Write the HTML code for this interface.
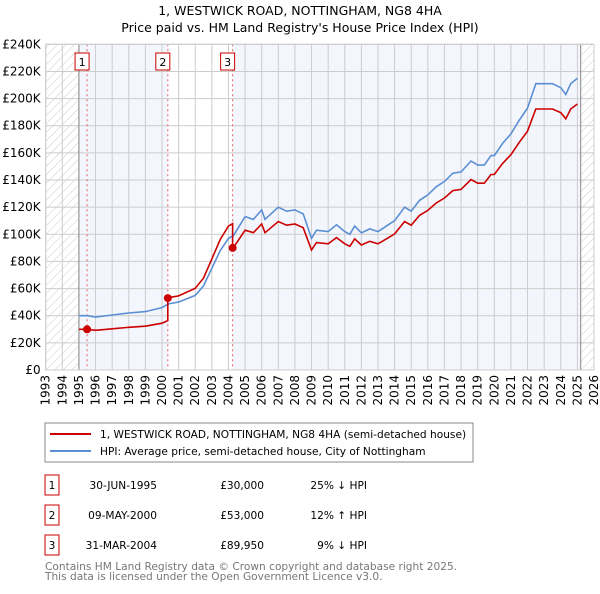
<!DOCTYPE html>
<html><head><meta charset="utf-8"><style>
body{margin:0;width:600px;height:590px;background:#fff;font-family:"DejaVu Sans","Liberation Sans",sans-serif;overflow:hidden}
svg text{font-family:"DejaVu Sans","Liberation Sans",sans-serif}
</style></head><body>
<svg id="c" width="600" height="590" xmlns="http://www.w3.org/2000/svg">
<defs><pattern id="hatch" width="6" height="6" patternUnits="userSpaceOnUse" patternTransform="rotate(45)"><line x1="0" y1="0" x2="0" y2="6" stroke="#ccc" stroke-width="1"/></pattern></defs>
<text x="300" y="15" text-anchor="middle" font-size="12.5">1, WESTWICK ROAD, NOTTINGHAM, NG8 4HA</text>
<text x="300" y="32" text-anchor="middle" font-size="12.5">Price paid vs. HM Land Registry's House Price Index (HPI)</text>
<g id="plot"></g>
<rect x="45" y="423" width="428" height="39" fill="#fff" stroke="#888"/>
<line x1="50" y1="434" x2="91" y2="434" stroke="#cc0000" stroke-width="2"/>
<text x="100" y="438" font-size="10.6">1, WESTWICK ROAD, NOTTINGHAM, NG8 4HA (semi-detached house)</text>
<line x1="50" y1="451" x2="91" y2="451" stroke="#5b8fd4" stroke-width="2"/>
<text x="100" y="455" font-size="10.6">HPI: Average price, semi-detached house, City of Nottingham</text>
<g id="table" font-size="10.6"></g>
<text x="45" y="570" font-size="10.6" fill="#777">Contains HM Land Registry data © Crown copyright and database right 2025.</text>
<text x="45" y="580" font-size="10.6" fill="#777">This data is licensed under the Open Government Licence v3.0.</text>
</svg>
<script>
const hpiYears=[1995,1995.5,1996,1997,1998,1999,2000,2000.35,2000.5,2001,2002,2002.5,2003,2003.5,2004,2004.3,2005,2005.5,2006,2006.2,2007,2007.5,2008,2008.5,2009,2009.3,2010,2010.5,2011,2011.3,2011.6,2012,2012.5,2013,2013.5,2014,2014.6,2015,2015.5,2016,2016.5,2017,2017.5,2018,2018.6,2019,2019.4,2019.8,2020,2020.5,2021,2021.5,2022,2022.5,2023,2023.5,2024,2024.3,2024.6,2025];
const hpiValues=[40,40,39,40.5,42,43,46,48.5,49,50,55,62,75,88,97,99,113,111,118,111,120,117,118,115,97,103,102,107,102,100,106,101,104,102,106,110,120,117,125,129,135,139,145,146,154,151,151,158,158,167,174,184,193,211,211,211,208,203,211,215];
const saleDates=[1995.49,2000.35,2004.25];
const salePrices=[30,53,89.95];
const saleLabels=["1","2","3"];
const saleDateText=["30-JUN-1995","09-MAY-2000","31-MAR-2004"];
const salePriceText=["£30,000","£53,000","£89,950"];
const saleDiffText=["25% ↓ HPI","12% ↑ HPI","9% ↓ HPI"];
const yTicks=[0,20,40,60,80,100,120,140,160,180,200,220,240];
const xTicks=[1993,1994,1995,1996,1997,1998,1999,2000,2001,2002,2003,2004,2005,2006,2007,2008,2009,2010,2011,2012,2013,2014,2015,2016,2017,2018,2019,2020,2021,2022,2023,2024,2025,2026];

const L=45.7,R=594,T=44.3,B=370;
const X=y=>L+(y-1993)*(R-L)/33;
const Y=v=>B-v*(B-T)/240;
const NS="http://www.w3.org/2000/svg";
const plot=document.getElementById('plot');
function mk(tag,attrs,parent){const e=document.createElementNS(NS,tag);for(const k in attrs)e.setAttribute(k,attrs[k]);(parent||plot).appendChild(e);return e;}
function hpiAt(t){for(let i=1;i<hpiYears.length;i++){if(t<=hpiYears[i]){const f=(t-hpiYears[i-1])/(hpiYears[i]-hpiYears[i-1]);return hpiValues[i-1]+f*(hpiValues[i]-hpiValues[i-1]);}}return hpiValues[hpiValues.length-1];}

let e=mk('rect',{x:X(1995),y:T,width:X(2025.2)-X(1995),height:B-T,fill:'#f3f6fd'});

e=mk('rect',{x:X(saleDates[1]),y:T,width:X(saleDates[2])-X(saleDates[1]),height:B-T,fill:'#fff'});

e=mk('rect',{x:L,y:T,width:X(1995)-L,height:B-T,fill:'url(#hatch)'});

e=mk('rect',{x:X(2025.2),y:T,width:R-X(2025.2),height:B-T,fill:'url(#hatch)'});


yTicks.forEach(v=>{
 let g=mk('line',{x1:L,x2:R,y1:Y(v),y2:Y(v),stroke:'#ccc','stroke-width':1});
 
 let t=mk('text',{x:L-5,y:Y(v)+4,'text-anchor':'end','font-size':12});
 t.textContent=v===0?'£0':'£'+v+'K';
 
});
xTicks.forEach(y=>{
 let g=mk('line',{x1:X(y),x2:X(y),y1:T,y2:B,stroke:'#ccc','stroke-width':1});
 
 let t=mk('text',{x:0,y:0,'text-anchor':'end','font-size':12,transform:`translate(${X(y)+4},${B+5}) rotate(-90)`});
 t.textContent=y;
 
});
[1995,2025.2].forEach(y=>{let l=mk('line',{x1:X(y),x2:X(y),y1:T,y2:B,stroke:'#888','stroke-width':1});
 });

saleDates.forEach((d,i)=>{
 let l=mk('line',{x1:X(d),x2:X(d),y1:T,y2:B,stroke:'#e06060','stroke-width':1,'stroke-dasharray':'2,3'});
 
});

let hp=hpiYears.map((y,i)=>(i?'L':'M')+X(y).toFixed(1)+','+Y(hpiValues[i]).toFixed(1)).join('');
e=mk('path',{d:hp,fill:'none',stroke:'#5b8fd4','stroke-width':1.6});


const ratios=saleDates.map((d,i)=>salePrices[i]/hpiAt(d));
let pts=[];
hpiYears.forEach((y,i)=>{
 let k=0;for(let j=0;j<saleDates.length;j++)if(y>=saleDates[j])k=j;
 if(saleDates.includes(y))return;
 pts.push([y,hpiValues[i]*ratios[k]]);
});
saleDates.forEach((d,j)=>{ if(j>0)pts.push([d-0.001,hpiAt(d)*ratios[j-1]]); pts.push([d,salePrices[j]]); });
pts.sort((a,b)=>a[0]-b[0]);
let pp=pts.map((p,i)=>(i?'L':'M')+X(p[0]).toFixed(1)+','+Y(p[1]).toFixed(1)).join('');
e=mk('path',{d:pp,fill:'none',stroke:'#cc0000','stroke-width':1.6});


saleDates.forEach((d,i)=>{
 let c=mk('circle',{cx:X(d),cy:Y(salePrices[i]),r:4,fill:'#cc0000'});
 
 let r=mk('rect',{x:X(d)-12,y:53,width:14,height:17,fill:'#fff',stroke:'#cc0000'});
 
 let t=mk('text',{x:X(d)-5,y:66,'text-anchor':'middle','font-size':11});
 t.textContent=saleLabels[i];
 
});
let fr=mk('rect',{x:L,y:T,width:R-L,height:B-T,fill:'none',stroke:'#ccc'});


const tb=document.getElementById('table');
const rowY=[487,517,547];
saleDates.forEach((d,i)=>{
 let r=mk('rect',{x:45,y:rowY[i]-12,width:14,height:20,fill:'#fff',stroke:'#cc0000'},tb);
 
 let t=mk('text',{x:52,y:rowY[i]+2,'text-anchor':'middle'},tb);t.textContent=saleLabels[i];
 
 t=mk('text',{x:157,y:rowY[i]+2,'text-anchor':'end'},tb);t.textContent=saleDateText[i];
 
 t=mk('text',{x:264,y:rowY[i]+2,'text-anchor':'end'},tb);t.textContent=salePriceText[i];
 
 t=mk('text',{x:367,y:rowY[i]+2,'text-anchor':'end'},tb);t.textContent=saleDiffText[i];
 
});
</script>
</body></html>
